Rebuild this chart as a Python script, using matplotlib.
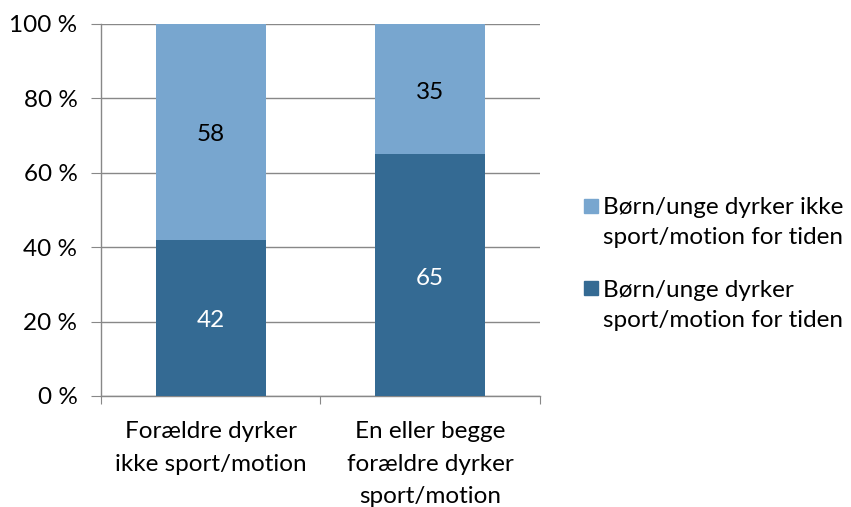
import numpy as np
import matplotlib.pyplot as plt
from matplotlib.patches import Rectangle

plt.rcParams['font.family'] = ['Lato', 'DejaVu Sans']

categories = ['Forældre dyrker\nikke sport/motion', 'En eller begge\nforældre dyrker\nsport/motion']
doing = [42, 65]        # Børn/unge dyrker sport/motion for tiden
not_doing = [58, 35]    # Børn/unge dyrker ikke sport/motion for tiden
yticks = [0, 20, 40, 60, 80, 100]
ytick_labels = ['0 %', '20 %', '40 %', '60 %', '80 %', '100 %']
legend_labels = ['Børn/unge dyrker ikke\nsport/motion for tiden',
                 'Børn/unge dyrker\nsport/motion for tiden']

c_dark = '#346A93'
c_light = '#78A6CF'
c_grid = '#888888'
fs = 17.5

fig = plt.figure(figsize=(8.51, 5.07), dpi=100)
ax = fig.add_axes([0.1187, 0.219, 0.5158, 0.7337])

x = np.arange(len(categories))
ax.bar(x, doing, width=0.5, color=c_dark, zorder=3)
ax.bar(x, not_doing, width=0.5, bottom=doing, color=c_light, zorder=3)

for i in range(len(x)):
    ax.text(x[i], doing[i] / 2 - 0.8, str(doing[i]), ha='center', va='center',
            color='white', fontsize=fs, zorder=4)
    ax.text(x[i], doing[i] + not_doing[i] / 2 - 0.8, str(not_doing[i]), ha='center',
            va='center', color='black', fontsize=fs, zorder=4)

ax.set_xlim(-0.5, 1.5)
ax.set_ylim(0, 100)
ax.set_yticks(yticks)
ax.set_yticklabels(ytick_labels, fontsize=fs)
ax.yaxis.grid(True, color=c_grid, linewidth=1, zorder=0)
ax.tick_params(axis='y', length=7, color=c_grid, pad=10)

# category labels between boundary ticks
ax.set_xticks([-0.5, 0.5, 1.5])
ax.set_xticklabels([])
ax.tick_params(axis='x', length=6, color=c_grid)
for i in range(len(x)):
    ax.text(x[i], -6.8, categories[i], ha='center', va='top', fontsize=fs,
            linespacing=1.68)

for s in ['top', 'right']:
    ax.spines[s].set_visible(False)
for s in ['left', 'bottom']:
    ax.spines[s].set_color(c_grid)
    ax.spines[s].set_linewidth(1)

# legend: square aligned with the first text line
leg_colors = [c_light, c_dark]
leg_text_y = [0.561, 0.3974]
leg_box_y = [0.5937, 0.432]
sq_w = 14 / 851
sq_h = 14 / 507
for i in range(2):
    fig.patches.append(Rectangle((584 / 851, leg_box_y[i] - sq_h / 2), sq_w, sq_h,
                                 color=leg_colors[i], transform=fig.transFigure))
    fig.text(603 / 851, leg_text_y[i], legend_labels[i], ha='left', va='center',
             fontsize=fs, linespacing=1.55)

fig.savefig('out.png', dpi=100)
